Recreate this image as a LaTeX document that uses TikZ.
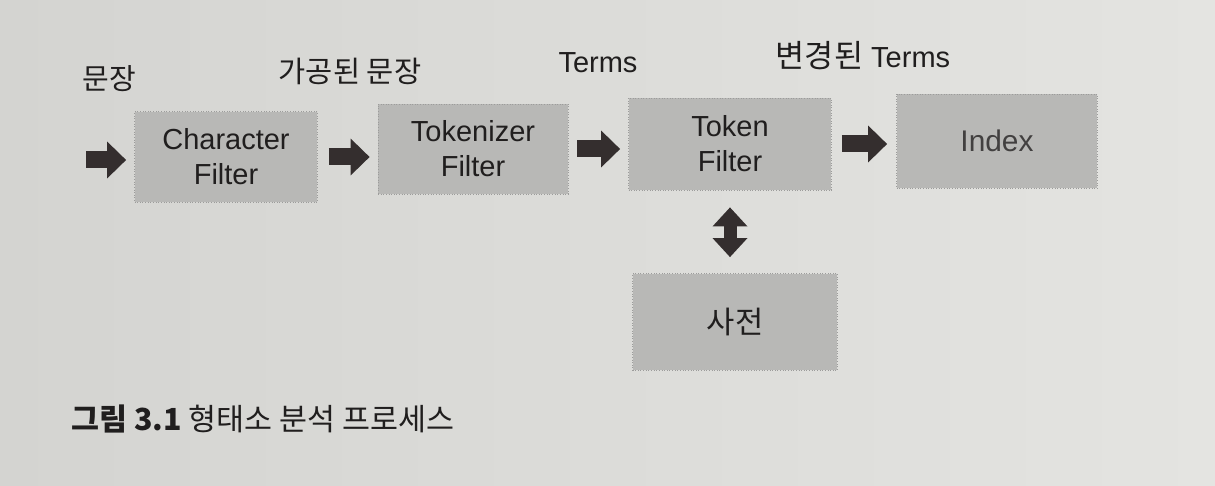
\documentclass[tikz,border=0pt]{standalone}
\usepackage{fontspec}
\setmainfont{Liberation Sans}
\newfontfamily\kr{Noto Sans CJK KR}
\usetikzlibrary{arrows.meta}
\definecolor{paper}{RGB}{228,228,225}
\definecolor{paperdark}{RGB}{212,212,209}
\definecolor{boxgray}{RGB}{184,184,182}
\definecolor{arrowgray}{RGB}{52,46,46}
\definecolor{ink}{RGB}{32,30,30}

\begin{document}
\begin{tikzpicture}[x=0.02cm,y=-0.02cm,
        box/.style={fill=boxgray,draw=boxgray!85!black,densely dotted,line width=0.5pt,inner sep=0pt,align=center,text=ink,font=\fontsize{16.5}{20}\selectfont},
        blockarrow/.style={draw=arrowgray,line width=0.34cm,-{Triangle[length=0.38cm,width=0.74cm,line width=0pt]}},
        lbl/.style={text=ink,inner sep=0pt,font=\fontsize{16.5}{20}\selectfont}]
                % paper
                \shade[left color=paperdark,right color=paper] (0,0) rectangle (1215,486);
                % boxes
                \node[box,minimum width=3.66cm,minimum height=1.82cm] (chr) at (226,157) {Character\\Filter};
                \node[box,minimum width=3.8cm,minimum height=1.8cm] (tok) at (473,149) {Tokenizer\\Filter};
                \node[box,minimum width=4.06cm,minimum height=1.84cm] (tokf) at (730,144) {Token\\Filter};
                \node[box,minimum width=4.02cm,minimum height=1.88cm,text=ink!85,font=\fontsize{17}{20}\selectfont] (idx) at (997,141) {Index};
                \node[box,minimum width=4.1cm,minimum height=1.94cm,font=\kr\fontsize{17.5}{20}\selectfont] (dict) at (735,322) {사전};
                % labels above
                \node[lbl,font=\kr\fontsize{16.5}{20}\selectfont] (l1) at (109,79) {문장};
                \node[lbl,font=\kr\fontsize{16.8}{20}\selectfont] (l2) at (350,71) {가공된 문장};
                \node[lbl] (l3) at (598,63) {Terms};
                \node[lbl] (l4) at (863,56) {{\kr\fontsize{18}{20}\selectfont 변경된} Terms};
                % arrows
                \coordinate (in) at (86,160);
                \draw[blockarrow,shorten >=0.16cm] (in) -- (in -| chr.west);
                \draw[blockarrow,shorten <=0.22cm,shorten >=0.16cm] (chr.east) -- (chr.east -| tok.west);
                \draw[blockarrow,shorten <=0.18cm,shorten >=0.16cm] (tok.east) -- (tok.east -| tokf.west);
                \draw[blockarrow,shorten <=0.2cm,shorten >=0.18cm] (tokf.east) -- (tokf.east -| idx.west);
                \draw[blockarrow,line width=0.26cm,{Triangle[length=0.38cm,width=0.7cm,line width=0pt]}-{Triangle[length=0.38cm,width=0.7cm,line width=0pt]},shorten <=0.34cm,shorten >=0.32cm] (tokf.south) -- (tokf.south |- dict.north);
                % caption
                \node[lbl,anchor=west,font=\kr\fontsize{17.3}{20}\selectfont] (cap) at (71,419) {\textbf{그림 3.1} 형태소 분석 프로세스};
\end{tikzpicture}
\end{document}
